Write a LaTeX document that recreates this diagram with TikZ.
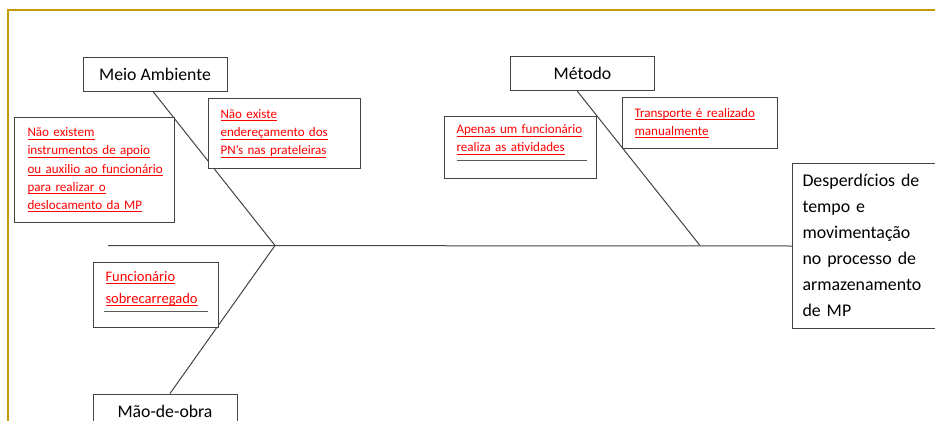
\documentclass[tikz,border=0pt]{standalone}
\usepackage{fontspec}
\setmainfont{Carlito}
\usepackage{tikz}
\usetikzlibrary{backgrounds}
\definecolor{framegold}{HTML}{C49A0C}
\definecolor{causered}{HTML}{FF0000}
\definecolor{edgegrey}{HTML}{444444}
\definecolor{rulegrey}{HTML}{5A5A5A}
\newsavebox{\ulbox}
\newcommand{\ulcause}[1]{\leavevmode\sbox{\ulbox}{#1}\rlap{\rule[-2.1pt]{\wd\ulbox}{0.6pt}}\usebox{\ulbox}}
\newcommand{\blankrule}[2]{\leavevmode{\color{rulegrey}\rule[#1]{#2}{0.75pt}}}

\begin{document}
\begin{tikzpicture}[x=0.75pt,y=-0.75pt,
  box/.style={draw=edgegrey,line width=0.75pt,fill=white,inner sep=0pt},
  cat/.style={box,font=\fontsize{13.3}{16}\selectfont,minimum width=108pt,minimum height=25.5pt},
  causebox/.style={box,anchor=north west,align=left,inner xsep=9pt,text=causered,font=\fontsize{9.8}{13.6}\selectfont},
  effectbox/.style={box,anchor=north west,align=left,inner xsep=7.5pt,font=\fontsize{13.4}{19.5}\selectfont},
  bone/.style={draw=edgegrey,line width=0.75pt}]
\useasboundingbox (0,0) rectangle (935,421);

\node[cat] (env) at (155,74) {Meio Ambiente};
\node[cat] (meth) at (582.5,73.5) {Método};
\node[cat] (labour) at (165,411) {Mão-de-obra};

\node[causebox,inner xsep=9.75pt,text width=100.5pt,minimum height=78.75pt] (supp) at (14,117)
  {\ulcause{Não existem}\\ \ulcause{instrumentos de apoio}\\ \ulcause{ou auxilio ao funcionário}\\ \ulcause{para realizar o}\\ \ulcause{deslocamento da MP}};
\node[causebox,text width=96pt,minimum height=52.5pt] (addr) at (208,98)
  {\ulcause{Não existe}\\ \ulcause{endereçamento dos}\\ \ulcause{PN’s nas prateleiras}};
\node[causebox,text width=96pt,minimum height=46.5pt] (solo) at (444,116)
  {\ulcause{Apenas um funcionário}\\ \ulcause{realiza as atividades}\\ \blankrule{6.5pt}{97.5pt}};
\node[causebox,text width=98.25pt,minimum height=38.25pt] (carry) at (622,97)
  {\ulcause{Transporte é realizado}\\ \ulcause{manualmente}};
\node[causebox,text width=75.75pt,minimum height=48.75pt,font=\fontsize{10.9}{16.2}\selectfont] (load) at (93,262)
  {\rule{0pt}{12pt}\ulcause{Funcionário}\\ \ulcause{sobrecarregado}\\ \hspace*{-1.5pt}\blankrule{9.5pt}{78pt}};

\node[effectbox,text width=112.5pt,minimum height=123.75pt] (waste) at (792,163)
  {Desperdícios de\\ tempo e\\ movimentação\\ no processo de\\ armazenamento\\ de MP\rule[-1.5pt]{0pt}{1.5pt}};

\begin{scope}[on background layer]
\clip (0,0) rectangle (935,421);
\fill[white] (0,0) rectangle (935,421);
\draw[framegold,line width=1.5pt] (8,10) rectangle (990,480);
\coordinate (tail) at (108,245.5);
\coordinate (j1) at (275,245.5);
\coordinate (j2) at (700,245.5);
\draw[bone] (tail) -- (waste.west);
\draw[bone] ([xshift=-1.5pt]env.south) -- (j1) -- ([xshift=3.75pt]labour.north);
\draw[bone] ([xshift=-4pt]meth.south) -- (j2);
\end{scope}
\end{tikzpicture}
\end{document}
